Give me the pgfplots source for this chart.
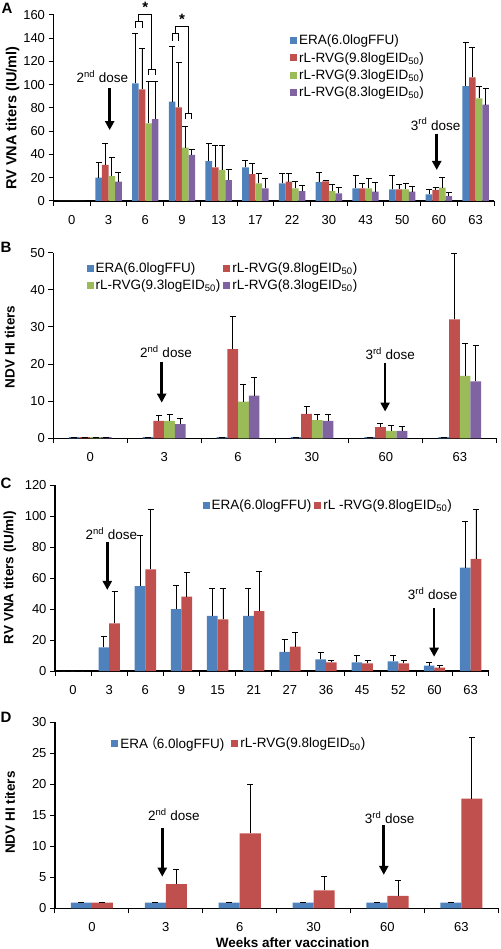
\documentclass[border=0pt]{standalone}
\usepackage{fontspec}
\setmainfont{Liberation Sans}
\newfontfamily\cjk{Noto Sans CJK SC}
\usepackage{pgfplots}
\pgfplotsset{compat=1.18}
\usepackage{pgfplotstable}
\usetikzlibrary{arrows.meta}
\definecolor{cB}{HTML}{4F81BD}
\definecolor{cR}{HTML}{C0504D}
\definecolor{cG}{HTML}{9BBB59}
\definecolor{cP}{HTML}{8064A2}

% Panel A: RV VNA titers, four groups
\pgfplotstableread{
x  b     be    r     re    g     ge    p     pe
0  0     0     0     0     0     0     0     0
1  20.1  12.9  31.0  18.6  21.5  16.1  16.6  8.4
2  101.2 42.8  96.0  35.3  66.8  35.8  70.5  32.7
3  85.4  47.4  80.6  38.7  45.9  18.1  39.6  4.8
4  34.4  15.2  29.0  18.6  26.7  20.9  18.0  9.5
5  29.0  6.3   23.2  9.2   15.2  8.6   10.9  8.6
6  15.2  8.6   16.6  7.2   10.9  6.3   8.6   5.2
7  16.3  8.4   16.9  1.2   8.6   5.7   6.6   4.9
8  10.9  11.5  10.9  4.3   10.9  8.6   8.0   7.8
9  10.0  11.8  10.0  4.6   10.0  5.2   8.0   4.3
10 5.7   4.6   9.5   2.3   11.5  8.6   4.3   2.9
11 98.9  37.9  106.4 25.5  88.3  10.6  82.9  14.0
}\tA

% Panel B: NDV HI titers, four groups
\pgfplotstableread{
x  b    be  r     re    g     ge   p     pe
0  0.3  0   0.3   0     0.3   0    0.3   0
1  0.3  0   4.7   1.6   4.7   1.8  3.8   1.6
2  0.3  0   24.0  8.8   9.9   4.5  11.5  4.8
3  0.3  0   6.6   2.1   4.9   1.6  4.7   1.8
4  0.3  0   3.0   1.0   2.0   1.4  2.0   1.1
5  0.3  0   32.0  17.8  16.8  8.8  15.3  9.6
}\tB

% Panel C: RV VNA titers, two groups
\pgfplotstableread{
x  b     be    r     re
0  0     0     0     0
1  15.3  7.3   30.8  20.4
2  54.8  32.7  65.6  38.7
3  40.0  15.0  48.0  15.4
4  35.5  17.6  33.3  19.8
5  35.5  17.6  38.7  25.8
6  12.3  8.1   15.7  9.5
7  7.5   4.5   5.6   1.5
8  5.6   4.3   4.9   2.2
9  6.2   3.7   4.9   2.2
10 3.4   2.0   2.2   1.2
11 66.7  29.6  72.3  32.0
}\tC

% Panel D: NDV HI titers, two groups
\pgfplotstableread{
x  b    be  r     re
0  0.9  0   0.9   0
1  0.9  0   3.9   2.3
2  0.9  0   12.1  7.9
3  0.9  0   2.9   2.3
4  0.9  0   2.0   2.5
5  0.9  0   17.7  9.9
}\tD

\pgfplotsset{
  panel/.style={
    scale only axis,
    axis x line*=bottom, axis y line*=left,
    axis line style={-, line width=1.1pt, black},
    tick align=outside,
    ymin=0,
    major x tick style={draw=none},
    minor x tick style={line width=1pt, black},
    ytick style={line width=1pt, black},
    major tick length=5pt, minor tick length=5pt,
    tick label style={font=\fontsize{13}{15}\selectfont},
    /pgf/number format/assume math mode=true,
    xticklabel style={yshift=-6pt},
    ybar,
    clip=false,
    error bars/y dir=plus,
    error bars/y explicit,
    error bars/error bar style={black, line width=0.8pt},
    error bars/error mark options={rotate=90, black, mark size=3pt, line width=0.8pt},
    legend cell align=left,
    legend style={draw=none, fill=none, font=\fontsize{13.5}{15}\selectfont},
    legend image code/.code={\fill[##1] (0pt,-3.5pt) rectangle (7pt,3.5pt);},
  },
}
\tikzset{
  dose/.style={font=\fontsize{13.5}{15}\selectfont},
  arr/.style={line width=2.6pt, -{Triangle[width=9pt,length=9pt]}},
  brk/.style={line width=0.9pt},
}

\begin{document}
\begin{tikzpicture}
\useasboundingbox (0,0) rectangle (500pt,-949pt);

\node[font=\bfseries\fontsize{15}{15}\selectfont] at (7pt,-8pt) {A};
\node[font=\bfseries\fontsize{15}{15}\selectfont] at (6pt,-247pt) {B};
\node[font=\bfseries\fontsize{15}{15}\selectfont] at (6pt,-483pt) {C};
\node[font=\bfseries\fontsize{15}{15}\selectfont] at (6pt,-717pt) {D};

% ---------------- A ----------------
\begin{axis}[panel, at={(53.5pt,-201pt)}, anchor=south west,
  width=440.5pt, height=186pt,
  xmin=-0.5, xmax=11.5, ymax=160, ytick={0,20,...,160},
  xtick={0,...,11}, xticklabels={0,3,6,9,13,17,22,30,43,50,60,63},
  minor xtick={-0.5,0.5,...,11.5},
  bar width=0.18,
  ylabel={RV VNA titers (IU/ml)},
  ylabel style={at={(axis description cs:-0.093,0.446)}, anchor=center, font=\bfseries\fontsize{14.5}{15}\selectfont},
  legend style={at={(0.53,0.915)}, anchor=north west, row sep=2pt},
]
\addplot[fill=cB, draw=none, bar shift=-0.27] table[x=x, y=b, y error=be]{\tA};
\addplot[fill=cR, draw=none, bar shift=-0.09] table[x=x, y=r, y error=re]{\tA};
\addplot[fill=cG, draw=none, bar shift=0.09] table[x=x, y=g, y error=ge]{\tA};
\addplot[fill=cP, draw=none, bar shift=0.27] table[x=x, y=p, y error=pe]{\tA};
\legend{ERA(6.0logFFU), rL-RVG(9.8logEID\textsubscript{50}), rL-RVG(9.3logEID\textsubscript{50}), rL-RVG(8.3logEID\textsubscript{50})}
% significance brackets
\draw[brk] (axis cs:1.73,148.6) |- (axis cs:1.91,154.2) -- (axis cs:1.91,148.6);
\draw[brk] (axis cs:2.09,108.4) |- (axis cs:2.27,113.5) -- (axis cs:2.27,108.4);
\draw[brk] (axis cs:1.82,154.2) |- (axis cs:2.18,160.9) -- (axis cs:2.18,113.5);
\node[font=\bfseries\fontsize{15}{15}\selectfont] at (axis cs:2.0,167) {*};
\draw[brk] (axis cs:2.73,137.9) |- (axis cs:2.91,144.3) -- (axis cs:2.91,137.9);
\draw[brk] (axis cs:3.09,70.3) |- (axis cs:3.27,75.4) -- (axis cs:3.27,70.3);
\draw[brk] (axis cs:2.82,144.3) |- (axis cs:3.18,150) -- (axis cs:3.18,75.4);
\node[font=\bfseries\fontsize{15}{15}\selectfont] at (axis cs:3.0,156) {*};
% dose arrows
\node[dose] at (axis cs:0.83,106.9) {2\textsuperscript{nd} dose};
\draw[arr] (axis cs:1.03,97) -- (axis cs:1.03,61);
\node[dose] at (axis cs:9.91,66.2) {3\textsuperscript{rd} dose};
\draw[arr] (axis cs:9.94,58) -- (axis cs:9.94,26.7);
\end{axis}

% ---------------- B ----------------
\begin{axis}[panel, at={(53.3pt,-438.3pt)}, anchor=south west,
  width=443.4pt, height=185.7pt,
  xmin=-0.5, xmax=5.5, ymax=50, ytick={0,10,...,50},
  xtick={0,...,5}, xticklabels={0,3,6,30,60,63},
  minor xtick={-0.5,0.5,...,5.5},
  bar width=0.145,
  ylabel={NDV HI titers},
  ylabel style={at={(axis description cs:-0.098,0.493)}, anchor=center, font=\bfseries\fontsize{13.5}{15}\selectfont},
  legend columns=2,
  legend style={at={(0.068,0.968)}, anchor=north west, row sep=2pt, /tikz/every even column/.append style={column sep=1pt}},
]
\addplot[fill=cB, draw=none, bar shift=-0.2175] table[x=x, y=b, y error=be]{\tB};
\addplot[fill=cR, draw=none, bar shift=-0.0725] table[x=x, y=r, y error=re]{\tB};
\addplot[fill=cG, draw=none, bar shift=0.0725] table[x=x, y=g, y error=ge]{\tB};
\addplot[fill=cP, draw=none, bar shift=0.2175] table[x=x, y=p, y error=pe]{\tB};
\legend{ERA(6.0logFFU), rL-RVG(9.8logEID\textsubscript{50}), rL-RVG(9.3logEID\textsubscript{50}), rL-RVG(8.3logEID\textsubscript{50})}
\node[dose] at (axis cs:1.025,23.3) {2\textsuperscript{nd} dose};
\draw[arr] (axis cs:0.967,20.6) -- (axis cs:0.967,9.6);
\node[dose] at (axis cs:4.06,22.7) {3\textsuperscript{rd} dose};
\draw[arr] (axis cs:3.99,20.3) -- (axis cs:3.99,7.2);
\end{axis}

% ---------------- C ----------------
\begin{axis}[panel, at={(55pt,-671pt)}, anchor=south west,
  width=433.7pt, height=186pt,
  xmin=-0.5, xmax=11.5, ymax=120, ytick={0,20,...,120},
  xtick={0,...,11}, xticklabels={0,3,6,9,15,21,27,36,45,52,60,63},
  minor xtick={-0.5,0.5,...,11.5},
  bar width=0.295,
  ylabel={RV VNA titers (IU/ml)},
  ylabel style={at={(axis description cs:-0.104,0.503)}, anchor=center, font=\bfseries\fontsize{13.5}{15}\selectfont},
  legend columns=2,
  legend style={at={(0.333,0.942)}, anchor=north west, /tikz/every even column/.append style={column sep=1pt}},
]
\addplot[fill=cB, draw=none, bar shift=-0.1475] table[x=x, y=b, y error=be]{\tC};
\addplot[fill=cR, draw=none, bar shift=0.1475] table[x=x, y=r, y error=re]{\tC};
\legend{ERA(6.0logFFU), rL -RVG(9.8logEID\textsubscript{50})}
\node[dose] at (axis cs:1.06,88.8) {2\textsuperscript{nd} dose};
\draw[arr] (axis cs:0.947,83.4) -- (axis cs:0.947,52.3);
\node[dose] at (axis cs:9.95,49.7) {3\textsuperscript{rd} dose};
\draw[arr] (axis cs:9.99,40.8) -- (axis cs:9.99,9.2);
\end{axis}

% ---------------- D ----------------
\begin{axis}[panel, at={(55pt,-908.3pt)}, anchor=south west,
  width=443.3pt, height=186pt,
  xmin=-0.5, xmax=5.5, ymax=30, ytick={0,5,...,30},
  xtick={0,...,5}, xticklabels={0,3,6,30,60,63},
  minor xtick={-0.5,0.5,...,5.5},
  bar width=0.285,
  ylabel={NDV HI titers},
  ylabel style={at={(axis description cs:-0.1015,0.515)}, anchor=center, font=\bfseries\fontsize{13.5}{15}\selectfont},
  xlabel={Weeks after vaccination},
  xlabel style={at={(axis description cs:0.536,-0.187)}, anchor=center, font=\bfseries\fontsize{13.5}{15}\selectfont},
  legend columns=2,
  legend style={at={(0.12,0.942)}, anchor=north west, /tikz/every even column/.append style={column sep=5pt}},
]
\addplot[fill=cB, draw=none, bar shift=-0.1425] table[x=x, y=b, y error=be]{\tD};
\addplot[fill=cR, draw=none, bar shift=0.1425] table[x=x, y=r, y error=re]{\tD};
\legend{ERA\kern-0.3em{\cjk （}\kern-0.05em6.0logFFU), rL-RVG(9.8logEID\textsubscript{50})}
\node[dose] at (axis cs:1.11,15.05) {2\textsuperscript{nd} dose};
\draw[arr] (axis cs:0.952,13) -- (axis cs:0.952,5.1);
\node[dose] at (axis cs:4.03,14.6) {3\textsuperscript{rd} dose};
\draw[arr] (axis cs:3.95,13.4) -- (axis cs:3.95,5.4);
\end{axis}
\end{tikzpicture}
\end{document}
